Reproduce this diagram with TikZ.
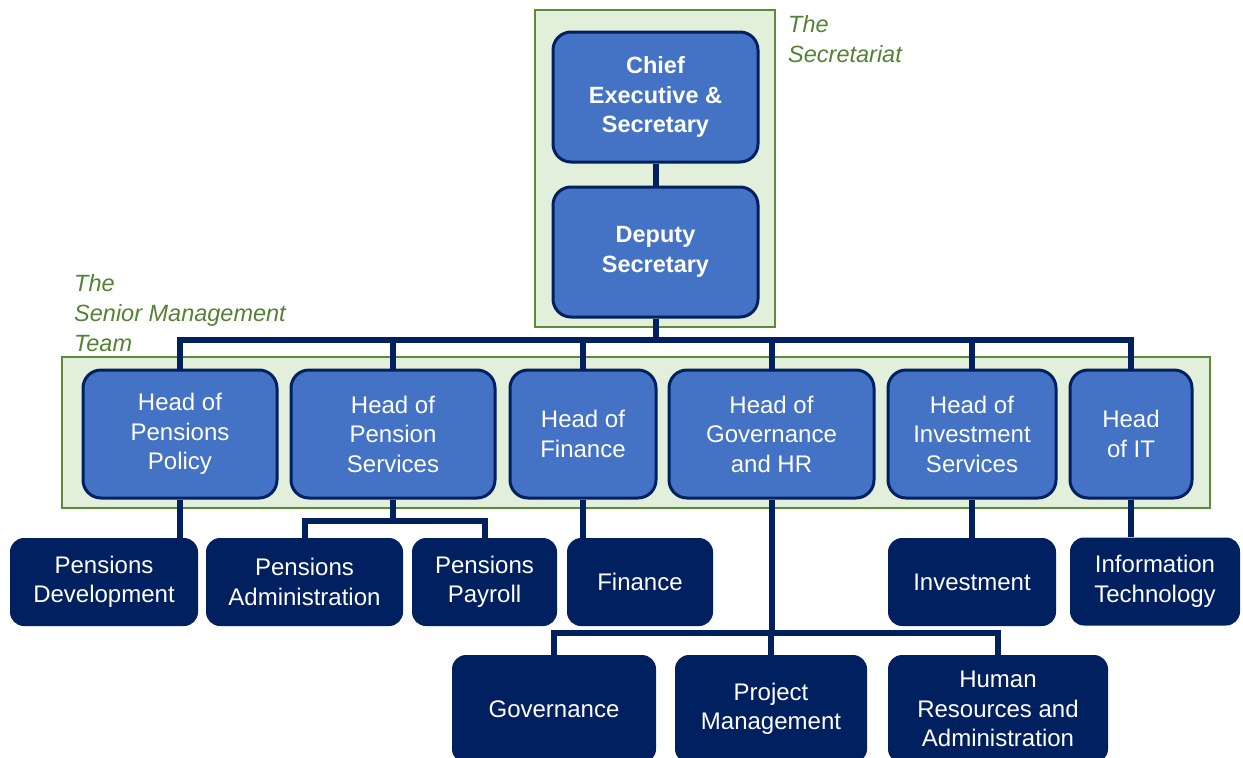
\documentclass[tikz,border=0pt]{standalone}
\usepackage{fontspec}
\setmainfont{Liberation Sans}
\definecolor{headblue}{HTML}{4472C4}
\definecolor{navy}{HTML}{002060}
\definecolor{teamfill}{HTML}{E2EFDA}
\definecolor{teamline}{HTML}{5B8C3A}
\definecolor{teamtext}{HTML}{548235}
\begin{document}
\begin{tikzpicture}[
  x=1pt, y=-1pt,
  team/.style = {fill=teamfill, draw=teamline, line width=2pt},
  teamlabel/.style = {text=teamtext, font=\fontsize{23.5}{30}\selectfont\itshape, align=left, anchor=west, inner sep=0},
  head/.style = {fill=headblue, draw=navy, line width=3pt, rounded corners=18pt, text=white,
    align=center, font=\fontsize{24}{29.5}\selectfont, inner sep=0, minimum height=128},
  top/.style = {head, font=\fontsize{23.5}{29.5}\selectfont\bfseries, minimum width=205, minimum height=130},
  unit/.style = {fill=navy, rounded corners=14pt, text=white, align=center,
    font=\fontsize{24}{29.5}\selectfont, inner sep=0, minimum height=88},
  link/.style = {draw=navy, line width=6pt},
  ]
  \useasboundingbox (0,0) rectangle (1243,758);

  % team frames
  \draw[team] (535,10) rectangle (775,327);
  \draw[team] (62,357) rectangle (1210,508);
  \node[teamlabel] (sectext) at (788,39) {The\\Secretariat};
  \node[teamlabel] (smttext) at (74,313) {The\\Senior Management\\Team};

  % secretariat
  \node[top] (ceo) at (655.5,97) {Chief\\Executive \&\\Secretary};
  \node[top] (dep) at (655.5,252) {Deputy\\Secretary};

  % senior management team
  \node[head, minimum width=194] (hpp) at (180,434) {Head of\\Pensions\\Policy};
  \node[head, minimum width=204] (hps) at (393,434) {Head of\\Pension\\Services};
  \node[head, minimum width=146] (hfi) at (583,434) {Head of\\Finance};
  \node[head, minimum width=205] (hgh) at (771.5,434) {Head of\\Governance\\and HR};
  \node[head, minimum width=168] (his) at (972,434) {Head of\\Investment\\Services};
  \node[head, minimum width=122] (hit) at (1131,434) {Head\\of IT};

  % units
  \node[unit, minimum width=188] (pdev) at (104,582) {Pensions\\Development};
  \node[unit, minimum width=197] (padm) at (304.5,582) {Pensions\\Administration};
  \node[unit, minimum width=145] (ppay) at (484.5,582) {Pensions\\Payroll};
  \node[unit, minimum width=146] (fin) at (640,582) {Finance};
  \node[unit, minimum width=168] (inv) at (972,582) {Investment};
  \node[unit, minimum width=170] (itec) at (1155,581.5) {Information\\Technology};

  \node[unit, minimum width=204, minimum height=108] (gov) at (554,709) {Governance};
  \node[unit, minimum width=192, minimum height=108] (pm) at (771,709) {Project\\Management};
  \node[unit, minimum width=220, minimum height=108] (hra) at (998,709) {Human\\Resources and\\Administration};

  % connector points
  \coordinate (bus) at (655.5,340);
  \coordinate (psbus) at (393,521);
  \coordinate (ghbus) at (771.5,633);

  % connectors
  \draw[link] (ceo.south) -- (dep.north);
  \draw[link] (dep.south) -- (bus);
  \foreach \h in {hpp, hps, hfi, hgh, his, hit}
    \draw[link] (bus) -| (\h.north);
  \draw[link] (hpp.south) -- (hpp.south |- pdev.north);
  \draw[link] (hps.south) -- (psbus);
  \draw[link] (psbus) -| (padm.north);
  \draw[link] (psbus) -| (ppay.north);
  \draw[link] (hfi.south) -- (hfi.south |- fin.north);
  \draw[link] (his.south) -- (inv.north);
  \draw[link] (hit.south) -- (hit.south |- itec.north);
  \draw[link] (hgh.south) -- (ghbus);
  \foreach \u in {gov, pm, hra}
    \draw[link] (ghbus) -| (\u.north);
\end{tikzpicture}
\end{document}
